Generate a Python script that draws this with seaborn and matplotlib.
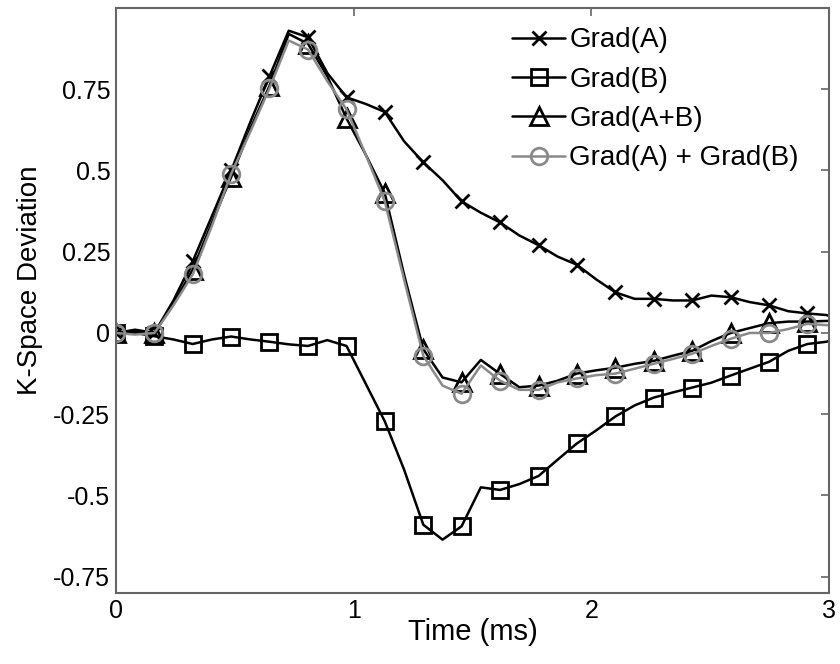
import numpy as np
import pandas as pd
import matplotlib
matplotlib.use("Agg")
import matplotlib.pyplot as plt
import seaborn as sns

# ── Data ──────────────────────────────────────────────────────────────────────
time_ms = [0.0, 0.081, 0.162, 0.242, 0.323, 0.404, 0.485, 0.566, 0.646, 0.727,
           0.808, 0.889, 0.970, 1.050, 1.131, 1.212, 1.293, 1.374, 1.454, 1.535,
           1.616, 1.697, 1.778, 1.858, 1.939, 2.020, 2.101, 2.182, 2.262, 2.343,
           2.424, 2.505, 2.586, 2.666, 2.747, 2.828, 2.909, 2.990, 3.0]

grad_a = [0.0, 0.01, 0.0, 0.10, 0.22, 0.36, 0.50, 0.65, 0.79, 0.93,
          0.91, 0.80, 0.725, 0.705, 0.68, 0.59, 0.525, 0.47, 0.405, 0.37,
          0.34, 0.30, 0.27, 0.235, 0.21, 0.165, 0.125, 0.105, 0.105, 0.10,
          0.10, 0.115, 0.11, 0.095, 0.085, 0.067, 0.06, 0.055, 0.052]

grad_b = [0.0, 0.0, -0.01, -0.02, -0.034, -0.02, -0.011, -0.02, -0.027, -0.035,
          -0.04, -0.022, -0.04, -0.155, -0.272, -0.42, -0.59, -0.636, -0.595, -0.475,
          -0.483, -0.465, -0.44, -0.39, -0.34, -0.30, -0.257, -0.223, -0.199, -0.183,
          -0.168, -0.153, -0.131, -0.11, -0.089, -0.055, -0.034, -0.027, -0.024]

grad_ab = [0.0, 0.005, 0.0, 0.09, 0.195, 0.34, 0.48, 0.63, 0.76, 0.92,
           0.89, 0.79, 0.66, 0.55, 0.43, 0.18, -0.05, -0.137, -0.152, -0.083,
           -0.126, -0.167, -0.162, -0.147, -0.125, -0.115, -0.107, -0.095, -0.086, -0.07,
           -0.055, -0.025, 0.0, 0.015, 0.03, 0.035, 0.035, 0.037, 0.037]

grad_sum = [0.0, -0.005, 0.0, 0.085, 0.18, 0.33, 0.49, 0.62, 0.753, 0.90,
            0.872, 0.775, 0.688, 0.55, 0.405, 0.165, -0.07, -0.162, -0.187, -0.10,
            -0.147, -0.175, -0.175, -0.152, -0.14, -0.13, -0.125, -0.11, -0.095, -0.08,
            -0.064, -0.04, -0.018, 0.0, 0.0, 0.012, 0.028, 0.024, 0.024]

labels = ["Grad(A)", "Grad(B)", "Grad(A+B)", "Grad(A) + Grad(B)"]
yticks = [-0.75, -0.5, -0.25, 0, 0.25, 0.5, 0.75]
yticklabels = ["-0.75", "-0.5", "-0.25", "0", "0.25", "0.5", "0.75"]

# ── Style ─────────────────────────────────────────────────────────────────────
sns.set_style("white")
plt.rcParams["font.family"] = ["Liberation Sans", "DejaVu Sans"]
plt.rcParams["text.color"] = "black"
plt.rcParams["axes.labelcolor"] = "black"
plt.rcParams["xtick.labelcolor"] = "black"
plt.rcParams["ytick.labelcolor"] = "black"

FRAME = "#666666"
GREY = "#8a8a8a"

styles = [
    dict(color="black", marker="x", ms=10, mew=2.0),
    dict(color="black", marker="s", ms=11, mew=2.0),
    dict(color="black", marker="^", ms=13, mew=2.0),
    dict(color=GREY, marker="o", ms=12, mew=2.0),
]
series = [grad_a, grad_b, grad_ab, grad_sum]

fig = plt.figure(figsize=(8.4, 6.64), dpi=100)
ax = fig.add_axes([0.138, 0.107, 0.849, 0.881])

marks = list(range(0, len(time_ms) - 1, 2))
for vals, lab, st in zip(series, labels, styles):
    sns.lineplot(x=time_ms, y=vals, ax=ax, label=lab, color=st["color"],
                 linewidth=1.8, marker=st["marker"], markersize=st["ms"],
                 markeredgewidth=st["mew"], markerfacecolor="none",
                 markeredgecolor=st["color"], markevery=marks,
                 sort=False, estimator=None)

ax.set_xlim(0, 3)
ax.set_ylim(-0.8, 1.0)
ax.set_xticks([0, 1, 2, 3])
ax.set_xticklabels(["0", "1", "2", "3"])
ax.set_yticks(yticks)
ax.set_yticklabels(yticklabels)

ax.tick_params(direction="in", length=6, width=1.2, color=FRAME,
               labelsize=18, top=True, right=True, pad=4)
for sp in ax.spines.values():
    sp.set_color(FRAME)
    sp.set_linewidth(1.5)

ax.set_xlabel("Time (ms)", fontsize=21, labelpad=-3)
ax.set_ylabel("K-Space Deviation", fontsize=20, labelpad=6)
ax.yaxis.set_label_coords(-0.102, 0.535)

leg = ax.legend(loc="upper right", frameon=False, fontsize=20,
                handlelength=1.9, handletextpad=0.15, labelspacing=0.48,
                borderaxespad=0.3, bbox_to_anchor=(0.985, 1.0))

fig.savefig("out.png", dpi=100)
